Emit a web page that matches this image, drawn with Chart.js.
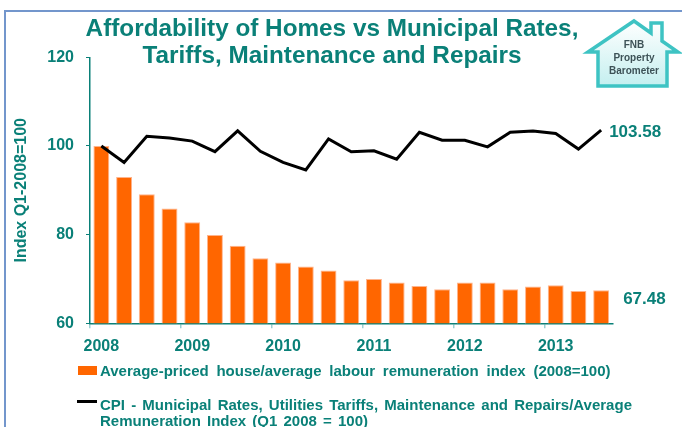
<!DOCTYPE html>
<html>
<head>
<meta charset="utf-8">
<script src="https://cdn.jsdelivr.net/npm/chart.js@4"></script>
<style>
  html, body { margin: 0; padding: 0; background: #ffffff; }
  body { width: 682px; height: 427px; position: relative; overflow: hidden; font-family: "Liberation Sans", Arial, sans-serif; }
  #c { position: absolute; left: 0; top: 0; }
  .frame { position: absolute; left: 4px; top: 10px; width: 700px; height: 440px; border-left: 2px solid #7396cc; border-top: 2px solid #7396cc; }
  .title { position: absolute; left: 0; top: 15px; width: 664px; text-align: center; font-weight: bold; font-size: 24.3px; line-height: 26.5px; color: #0a8078; }
  .leg { position: absolute; left: 100px; font-weight: bold; font-size: 15px; color: #0a8078; white-space: nowrap; }
  .box { position: absolute; left: 78px; top: 366px; width: 19px; height: 9px; background: #ff6600; }
  .ln { position: absolute; left: 77px; top: 400px; width: 20px; height: 3px; background: #000; }
  svg.logo { position: absolute; left: 580px; top: 10px; }
</style>
</head>
<body>
<canvas id="c" width="682" height="427"></canvas>
<div class="frame"></div>
<div class="title">Affordability of Homes vs Municipal Rates,<br>Tariffs, Maintenance and Repairs</div>
<svg class="logo" width="102" height="82" viewBox="580 10 102 82">
  <defs>
    <linearGradient id="hf" x1="0" y1="0" x2="0" y2="1">
      <stop offset="0" stop-color="#ffffff"/>
      <stop offset="1" stop-color="#c4efef"/>
    </linearGradient>
  </defs>
  <polygon points="634,21 651,33 651,23 662,23 662,41 678,52 667,52 667,86 598,86 598,52 588,52"
           fill="url(#hf)" stroke="#3ec3c3" stroke-width="3.5" stroke-linejoin="miter"/>
  <text x="634" y="48" text-anchor="middle" font-family="Liberation Sans, Arial, sans-serif" font-weight="bold" font-size="10" fill="#3d5257">FNB</text>
  <text x="634" y="61" text-anchor="middle" font-family="Liberation Sans, Arial, sans-serif" font-weight="bold" font-size="10" fill="#3d5257">Property</text>
  <text x="634" y="74" text-anchor="middle" font-family="Liberation Sans, Arial, sans-serif" font-weight="bold" font-size="10" fill="#3d5257">Barometer</text>
</svg>
<div class="box"></div>
<div class="leg" style="top:363px; line-height:15px; word-spacing:3.6px;">Average-priced house/average labour remuneration index (2008=100)</div>
<div class="ln"></div>
<div class="leg" style="top:396.5px; line-height:16.6px; word-spacing:2px;">CPI - Municipal Rates, Utilities Tariffs, Maintenance and Repairs/Average<br>Remuneration Index (Q1 2008 = 100)</div>
<script>
// Quarterly categories 2008Q1 .. 2013Q3
const quarters = [
  '2008 Q1','2008 Q2','2008 Q3','2008 Q4',
  '2009 Q1','2009 Q2','2009 Q3','2009 Q4',
  '2010 Q1','2010 Q2','2010 Q3','2010 Q4',
  '2011 Q1','2011 Q2','2011 Q3','2011 Q4',
  '2012 Q1','2012 Q2','2012 Q3','2012 Q4',
  '2013 Q1','2013 Q2','2013 Q3'
];
const yearTickLabels = ['2008','2009','2010','2011','2012','2013'];
const affordabilityIndex = [100.0, 93.0, 89.1, 85.9, 82.8, 79.9, 77.5, 74.7, 73.7, 72.8, 71.9, 69.7,
                            70.0, 69.2, 68.4, 67.7, 69.2, 69.2, 67.7, 68.3, 68.6, 67.3, 67.48];
const cpiRatesIndex = [100.0, 96.3, 102.2, 101.8, 101.1, 98.7, 103.4, 98.8, 96.3, 94.6, 101.6, 98.7,
                       98.9, 97.0, 103.1, 101.3, 101.3, 99.8, 103.1, 103.4, 102.8, 99.3, 103.58];
const yTicks = [60, 80, 100, 120];

const TEAL = '#0a8078';
const FONT = '"Liberation Sans", Arial, sans-serif';

const endLabels = {
  id: 'endLabels',
  afterDatasetsDraw(chart) {
    const ctx = chart.ctx;
    ctx.save();
    ctx.font = 'bold 17px ' + FONT;
    ctx.fillStyle = TEAL;
    ctx.textAlign = 'left';
    ctx.textBaseline = 'middle';
    const lm = chart.getDatasetMeta(1);
    const lp = lm.data[lm.data.length - 1];
    ctx.fillText(cpiRatesIndex[cpiRatesIndex.length - 1].toFixed(2), lp.x + 8, lp.y + 2);
    const bm = chart.getDatasetMeta(0);
    const bp = bm.data[bm.data.length - 1];
    ctx.fillText(affordabilityIndex[affordabilityIndex.length - 1].toFixed(2), bp.x + 22, bp.y + 9);
    ctx.restore();
  }
};

new Chart(document.getElementById('c'), {
  type: 'bar',
  data: {
    labels: quarters,
    datasets: [
      {
        type: 'bar',
        label: 'Average-priced house/average labour remuneration index (2008=100)',
        data: affordabilityIndex,
        backgroundColor: '#ff6600',
        borderColor: '#ffb48c',
        borderWidth: 1,
        barPercentage: 0.7,
        categoryPercentage: 1.0,
        order: 2
      },
      {
        type: 'line',
        label: 'CPI - Municipal Rates, Utilities Tariffs, Maintenance and Repairs/Average Remuneration Index (Q1 2008 = 100)',
        data: cpiRatesIndex,
        borderColor: '#000000',
        backgroundColor: '#000000',
        borderWidth: 3,
        pointRadius: 0,
        tension: 0,
        fill: false,
        order: 1
      }
    ]
  },
  options: {
    responsive: false,
    animation: false,
    devicePixelRatio: 1,
    layout: { padding: { top: 57.3, right: 69.5, bottom: 0, left: 0 } },
    plugins: {
      legend: { display: false },
      tooltip: { enabled: false },
      title: { display: false }
    },
    scales: {
      x: {
        type: 'category',
        offset: true,
        afterFit(scale) { scale.height = 427 - 323.3; },
        border: { display: true, color: TEAL, width: 1.5 },
        grid: {
          offset: true,
          drawOnChartArea: false,
          drawTicks: true,
          tickLength: 5,
          lineWidth: 1.5,
          color: (c) => (c.index % 4 === 0 ? '#9ccfd2' : 'rgba(0,0,0,0)')
        },
        ticks: {
          autoSkip: false,
          maxRotation: 0,
          minRotation: 0,
          padding: 9,
          color: TEAL,
          font: { family: FONT, size: 16, weight: 'bold' },
          callback: (v, i) => (i % 4 === 0 ? yearTickLabels[i / 4] : '')
        }
      },
      y: {
        min: 60,
        max: 120,
        afterFit(scale) { scale.width = 90; },
        afterBuildTicks(scale) { scale.ticks = yTicks.map(v => ({ value: v })); },
        border: { display: true, color: TEAL, width: 1.5 },
        grid: {
          drawOnChartArea: false,
          drawTicks: true,
          tickLength: 4,
          color: TEAL,
          lineWidth: 1
        },
        ticks: {
          padding: 12,
          color: TEAL,
          font: { family: FONT, size: 16, weight: 'bold' }
        },
        title: {
          display: true,
          text: 'Index Q1-2008=100',
          color: TEAL,
          font: { family: FONT, size: 16, weight: 'bold' },
          padding: { top: 12, bottom: 0 }
        }
      }
    }
  },
  plugins: [endLabels]
});
</script>
</body>
</html>
